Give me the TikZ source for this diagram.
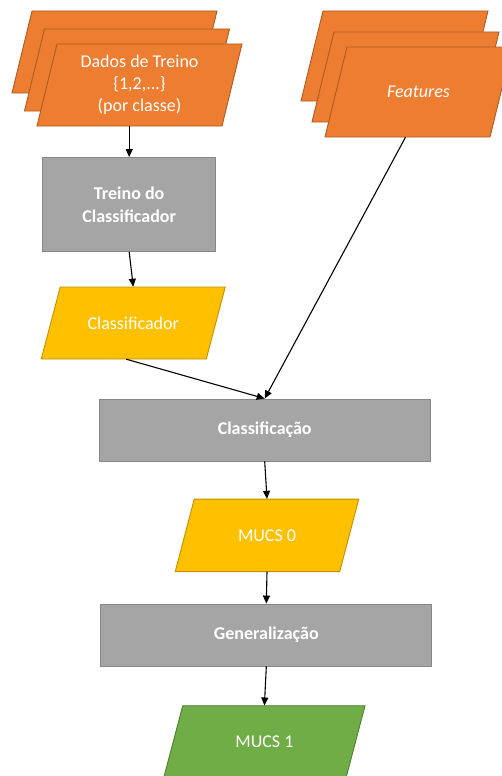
\documentclass[tikz,border=0pt]{standalone}
\usepackage{fontspec}
\setmainfont{Carlito}
\usetikzlibrary{arrows.meta,calc}

\definecolor{orfill}{HTML}{ED7D31}
\definecolor{ordraw}{HTML}{AE5A21}
\definecolor{grfill}{HTML}{A5A5A5}
\definecolor{grdraw}{HTML}{878787}
\definecolor{yefill}{HTML}{FFC000}
\definecolor{yedraw}{HTML}{BF9000}
\definecolor{gnfill}{HTML}{70AD47}
\definecolor{gndraw}{HTML}{507E32}

\tikzset{
  orange shape/.style={fill=orfill, draw=ordraw, line width=0.9pt},
  yellow shape/.style={fill=yefill, draw=yedraw, line width=0.9pt},
  green shape/.style={fill=gnfill, draw=gndraw, line width=0.9pt},
  lbl/.style={inner sep=0pt, text=white, align=center, font=\fontsize{18}{22}\selectfont},
  procbox/.style={rectangle, fill=grfill, draw=grdraw, line width=0.9pt, inner sep=0pt,
    text=white, align=center, font=\fontsize{18}{23}\selectfont\bfseries},
  arr/.style={-{Triangle[length=8pt,width=7pt]}, line width=1.1pt, black},
}

% parallelogram: #1 style, #2 cx, #3 cy, #4 edge width, #5 height, #6 skew
\newcommand\paradraw[6]{%
  \path[#1] ({#2-#4/2-#6/2},{#3+#5/2}) -- ({#2+#4/2-#6/2},{#3+#5/2})
    -- ({#2+#4/2+#6/2},{#3-#5/2}) -- ({#2-#4/2+#6/2},{#3-#5/2}) -- cycle;}
% parallelogram with a named text node on top: #7 name, #8 text
\newcommand\paranode[8]{%
  \paradraw{#1}{#2}{#3}{#4}{#5}{#6}%
  \node[lbl, minimum width=#4pt, minimum height=#5pt] (#7) at (#2,#3) {#8};}

\begin{document}
\begin{tikzpicture}[x=1pt, y=-1pt]
\useasboundingbox (0,0) rectangle (501,776);

% training data stack
\paranode{orange shape}{114.5}{52}{185}{82}{20}{d1}{}
\paranode{orange shape}{127}{70}{185}{82}{20}{d2}{}
\paranode{orange shape}{139.5}{85}{185}{82}{20}{d3}{Dados de Treino\\\{1,2,...\}\\(por classe)}

% feature stack
\paranode{orange shape}{394.5}{56}{165}{90}{22}{f1}{}
\paranode{orange shape}{405.5}{77}{165}{90}{22}{f2}{}
\paranode{orange shape}{418.5}{92}{165}{90}{22}{f3}{\itshape Features}

% processing steps
\node[procbox, minimum width=173pt, minimum height=94pt] (treino) at (129.2,204.5) {Treino do\\Classificador};
\paranode{yellow shape}{133.25}{323}{165}{72}{19}{cls}{Classificador}
\node[procbox, minimum width=331pt, minimum height=62pt] (clf) at (264.7,430) {Classificação};
\paranode{yellow shape}{267}{535.3}{164.5}{72.5}{19}{m0}{MUCS 0}
\node[procbox, minimum width=331pt, minimum height=62pt] (gen) at (266.3,635) {Generalização};
\paranode{green shape}{264.4}{741.7}{182.3}{72}{19}{m1}{MUCS 1}

% connectors
\draw[arr] (treino.north |- d3.south) -- (treino.north);
\draw[arr] (treino.south) -- (cls.north);
\draw[arr] ([xshift=-7pt]cls.south) -- (clf.north);
\draw[arr] ([xshift=-13pt]f3.south) -- (clf.north);
\draw[arr] (clf.south) -- (m0.north);
\draw[arr] (m0.south) -- (gen.north);
\draw[arr] (gen.south) -- (m1.north);
\end{tikzpicture}
\end{document}
